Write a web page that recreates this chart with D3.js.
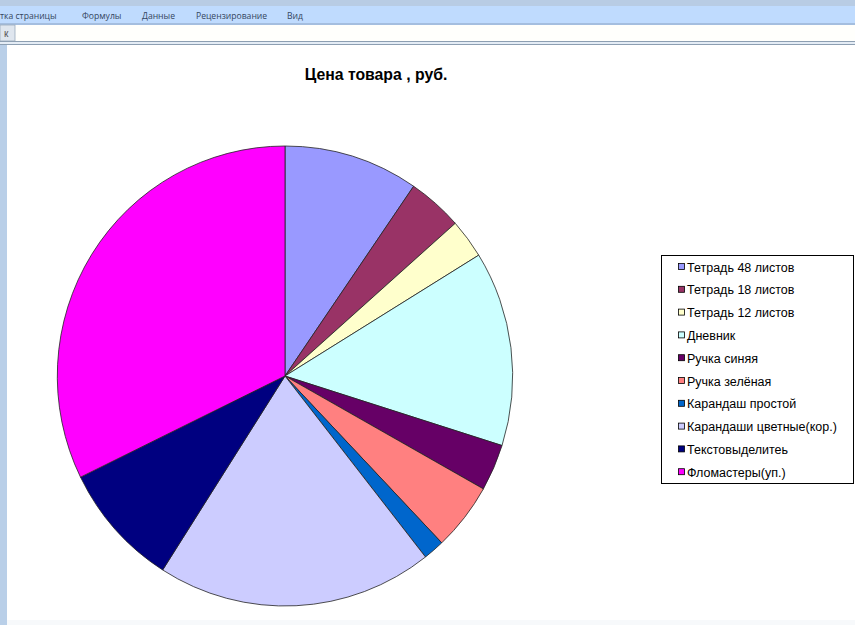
<!DOCTYPE html>
<html><head><meta charset="utf-8">
<script src="https://cdn.jsdelivr.net/npm/d3@7"></script>
<style>body{margin:0;background:#fff;overflow:hidden}svg{display:block}</style>
</head><body>
<svg id="c" width="855" height="625"></svg>
<script>
const categories = ["Тетрадь 48 листов","Тетрадь 18 листов","Тетрадь 12 листов","Дневник","Ручка синяя","Ручка зелёная","Карандаш простой","Карандаши цветные(кор.)","Текстовыделитеь","Фломастеры(уп.)"];
const prices = [34.4, 14, 9.9, 49.3, 11.8, 17.1, 5.4, 70.6, 31.4, 116.1];
const colors = ["#9999FF","#993366","#FFFFCC","#CCFFFF","#660066","#FF8080","#0066CC","#CCCCFF","#000080","#FF00FF"];
const menuItems = ["тка страницы","Формулы","Данные","Рецензирование","Вид"];
const menuX = [0, 82, 142, 196, 287];
const title = "Цена товара , руб.";

const svg = d3.select("#c");
// window chrome
svg.append("rect").attr("x",0).attr("y",0).attr("width",855).attr("height",6).attr("fill","#b8cce4");
svg.append("rect").attr("x",0).attr("y",6).attr("width",855).attr("height",17).attr("fill","#bfdbfe");
svg.append("rect").attr("x",0).attr("y",23).attr("width",855).attr("height",2).attr("fill","#a4bedf");
svg.append("rect").attr("x",0).attr("y",25).attr("width",855).attr("height",16).attr("fill","#fffffc");
svg.append("rect").attr("x",0).attr("y",25).attr("width",15).attr("height",16).attr("fill","#dfe6ee").attr("stroke","#9aaabb").attr("stroke-width",0.8);
svg.append("text").attr("x",4).attr("y",37).attr("font-family","Arial, Liberation Sans").attr("font-size",10).attr("fill","#555").text("к");
svg.append("rect").attr("x",0).attr("y",41).attr("width",855).attr("height",1).attr("fill","#8d9fb2");
svg.append("rect").attr("x",0).attr("y",42).attr("width",855).attr("height",2).attr("fill","#e4ecf5");
svg.append("rect").attr("x",0).attr("y",44).attr("width",855).attr("height",1).attr("fill","#8d9fb2");
svg.append("rect").attr("x",0).attr("y",45).attr("width",7).attr("height",580).attr("fill","#b9cfe8");
svg.append("rect").attr("x",7).attr("y",620).attr("width",848).attr("height",5).attr("fill","#f7f9fb");
svg.selectAll("text.menu").data(menuItems).join("text").attr("class","menu")
  .attr("x",(d,i)=>menuX[i]).attr("y",19).attr("font-family","Segoe UI, Open Sans, DejaVu Sans").attr("font-size",8.6)
  .attr("fill","#34465f").text(d=>d);

// title
svg.append("text").attr("x",376).attr("y",80).attr("text-anchor","middle")
  .attr("font-family","Arial, Liberation Sans").attr("font-weight","bold").attr("font-size",15.8).attr("fill","#000").text(title);

// pie
const cx=285, cy=376, r=230;
const pie = d3.pie().sort(null).value(d=>d)(prices);
const arc = d3.arc().innerRadius(0).outerRadius(r);
const g = svg.append("g").attr("transform",`translate(${cx},${cy}) scale(0.99,1)`);
g.selectAll("path").data(pie).join("path").attr("d",arc)
  .attr("fill",(d,i)=>colors[i]).attr("stroke","#222").attr("stroke-width",0.8).attr("stroke-linejoin","round");

// legend
const lg = svg.append("g");
lg.append("rect").attr("x",661.5).attr("y",255.5).attr("width",192).attr("height",228).attr("fill","#fff").attr("stroke","#000").attr("stroke-width",1);
const y0=267, dy=22.8;
const items = lg.selectAll("g.it").data(categories).join("g").attr("class","it")
  .attr("transform",(d,i)=>`translate(0,${y0+i*dy})`);
items.append("rect").attr("x",678.5).attr("y",-3.5).attr("width",6).attr("height",6)
  .attr("fill",(d,i)=>colors[i]).attr("stroke","#000").attr("stroke-width",0.8);
items.append("text").attr("x",687).attr("y",4.5).attr("font-family","Arial, Liberation Sans").attr("font-size",12.5).attr("fill","#000").text(d=>d);
</script>
</body></html>
